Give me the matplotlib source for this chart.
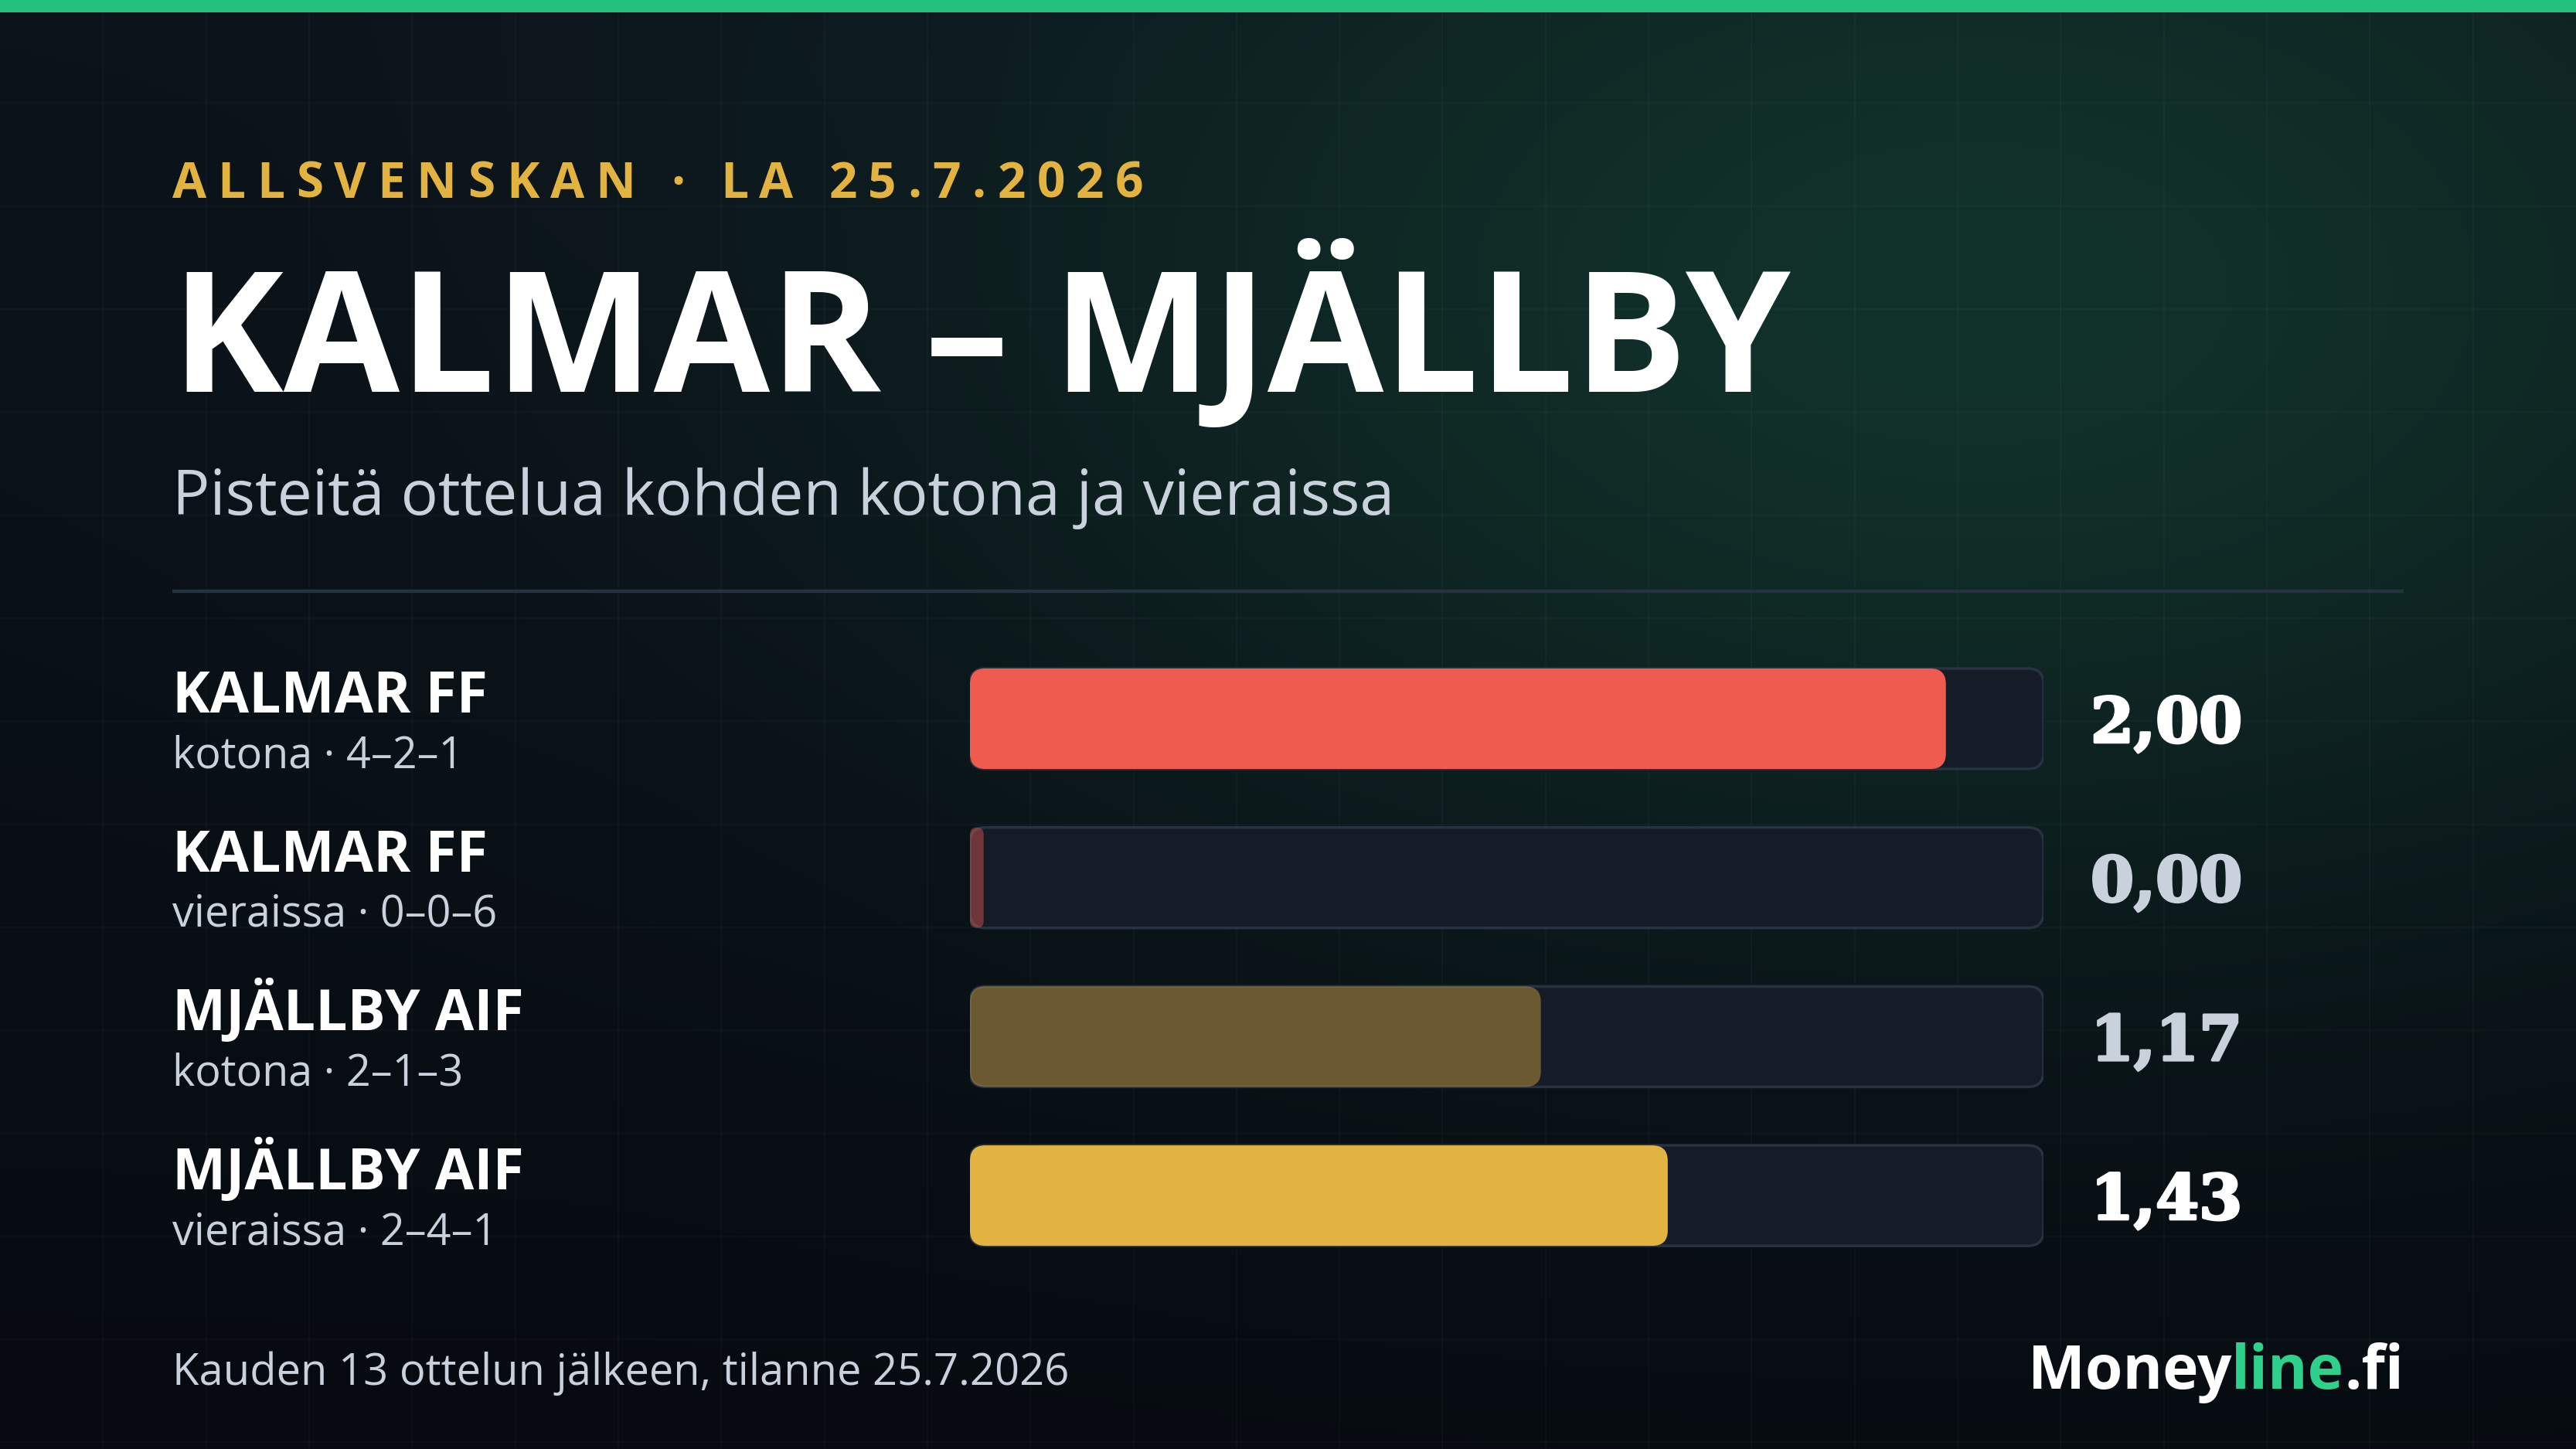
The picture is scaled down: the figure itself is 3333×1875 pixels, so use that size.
import numpy as np
import matplotlib
matplotlib.use("Agg")
import matplotlib.pyplot as plt
import matplotlib.patheffects as pe
from matplotlib import font_manager
from matplotlib.patches import FancyBboxPatch, Rectangle

# data
teams = ["KALMAR FF", "KALMAR FF", "MJÄLLBY AIF", "MJÄLLBY AIF"]
venues = ["kotona", "vieraissa", "kotona", "vieraissa"]
records = ["4–2–1", "0–0–6", "2–1–3", "2–4–1"]
ppg = [2.00, 0.00, 1.17, 1.43]
highlight = [True, False, False, True]
x_max = 2.2

header = "ALLSVENSKAN · LA 25.7.2026"
title = "KALMAR – MJÄLLBY"
subtitle = "Pisteitä ottelua kohden kotona ja vieraissa"
footer = "Kauden 13 ottelun jälkeen, tilanne 25.7.2026"

W, H = 3333, 1875
RED = "#f05b50"
GOLD = "#e3b341"
TRACK = "#151b27"
EDGE = "#283242"
LIGHT = "#c8d1dc"
GREEN = "#22c07a"
team_colors = {"KALMAR FF": RED, "MJÄLLBY AIF": GOLD}

# pick a sans family that actually has a bold face installed
bold_fams = {f.name for f in font_manager.fontManager.ttflist
             if (f.weight if isinstance(f.weight, int) else 400) >= 600 or f.weight == "bold"}
fam = "DejaVu Sans"
for cand in ["Open Sans", "Noto Sans", "Lato", "Roboto", "Inter", "Liberation Sans"]:
    if cand in bold_fams:
        fam = cand
        break
plt.rcParams["font.family"] = [fam, "DejaVu Sans"]

fig = plt.figure(figsize=(W / 100, H / 100), dpi=100)
bg = fig.add_axes([0, 0, 1, 1])
bg.set_xlim(0, W)
bg.set_ylim(H, 0)
bg.axis("off")

# background gradient with green glow top right
ny, nx = H // 5, W // 5
yy, xx = np.mgrid[0:ny, 0:nx]
yy = yy * 5.0
xx = xx * 5.0
t = yy / H
top = np.array([12, 19, 27]) / 255
bot = np.array([7, 11, 17]) / 255
img = top[None, None, :] * (1 - t[..., None]) + bot[None, None, :] * t[..., None]
d = np.sqrt(((xx - 2550) / 1500) ** 2 + ((yy - 380) / 900) ** 2)
glow = np.exp(-d ** 2 * 1.3)
gcol = np.array([17, 50, 42]) / 255
img = img * (1 - glow[..., None]) + gcol[None, None, :] * glow[..., None]
bg.imshow(img, extent=[0, W, H, 0], aspect="auto", zorder=0, interpolation="bilinear")

# faint grid
step = W / 25
for gx in np.arange(step, W, step):
    bg.axvline(gx, color="white", alpha=0.025, lw=1.5, zorder=1)
for gy in np.arange(step, H, step):
    bg.axhline(gy, color="white", alpha=0.025, lw=1.5, zorder=1)

# top accent bar
bg.add_patch(Rectangle((0, 0), W, 16, color=GREEN, zorder=2, lw=0))

renderer = fig.canvas.get_renderer()


def text_width(s, **kw):
    tt = bg.text(0, 0, s, **kw)
    bb = tt.get_window_extent(renderer)
    tt.remove()
    return bb.width


def fit_size(s, target, size, **kw):
    return size * target / text_width(s, fontsize=size, **kw)


# letter-spaced header
hkw = dict(fontsize=46, fontweight="bold", color=GOLD)
spacing = 14.5
x = 223
for i, ch in enumerate(header):
    bg.text(x, 256, ch, va="baseline", ha="left", zorder=3, **hkw)
    x += text_width(header[:i + 1] + "|", **hkw) - text_width(header[:i] + "|", **hkw) + spacing

tsize = fit_size(title, 2095, 160, fontweight="bold")
bg.text(222, 507, title, fontsize=tsize, fontweight="bold", color="white",
        va="baseline", ha="left", zorder=3)
ssize = fit_size(subtitle, 1582, 53)
bg.text(223, 666, subtitle, fontsize=ssize, color=LIGHT, va="baseline", ha="left", zorder=3)
bg.plot([223, 3110], [765, 765], color="#273241", lw=3.2, zorder=3, solid_capstyle="butt")

# row labels
row_y = 930
row_step = 205.7
nsize = fit_size("KALMAR FF", 408, 50, fontweight="bold")
rsize = fit_size("kotona · 4–2–1", 376, 39)
for i in range(len(teams)):
    cy = row_y + i * row_step
    bg.text(223, cy - 8, teams[i], fontsize=nsize, fontweight="bold", color="white",
            va="baseline", ha="left", zorder=3)
    bg.text(223, cy + 63, f"{venues[i]} · {records[i]}", fontsize=rsize, color=LIGHT,
            va="baseline", ha="left", zorder=3)

# bar axes
left_px, right_px = 1255, 2644
top_px = row_y - row_step / 2
bot_px = row_y + 3.5 * row_step
ax = fig.add_axes([left_px / W, 1 - bot_px / H, (right_px - left_px) / W, (bot_px - top_px) / H])
ax.set_xlim(0, x_max)
ax.set_ylim(3.5, -0.5)
ax.axis("off")
ax.patch.set_alpha(0)

px_x = (right_px - left_px) / x_max
px_y = row_step
asp = px_x / px_y
r = 20 / px_x
bh = 130 / px_y
for i, v in enumerate(ppg):
    track = FancyBboxPatch((0, i - bh / 2), x_max, bh,
                           boxstyle=f"round,pad=0,rounding_size={r}", mutation_aspect=asp,
                           fc=TRACK, ec=EDGE, lw=2.5, zorder=2)
    ax.add_patch(track)
    w = max(v, 0.028)
    fill = FancyBboxPatch((0, i - bh / 2), w, bh,
                          boxstyle=f"round,pad=0,rounding_size={min(r, w / 2)}", mutation_aspect=asp,
                          fc=team_colors[teams[i]], alpha=1.0 if highlight[i] else 0.42,
                          ec="none", zorder=3)
    ax.add_patch(fill)
    vc = "white" if highlight[i] else LIGHT
    bg.text(2705, row_y + i * row_step, f"{v:.2f}".replace(".", ","),
            fontsize=58, fontweight="bold", family="DejaVu Serif", color=vc,
            va="center_baseline", ha="left", zorder=3,
            path_effects=[pe.withStroke(linewidth=2.5, foreground=vc)])

# footer
fsize = fit_size(footer, 1160, 41)
bg.text(223, 1792, footer, fontsize=fsize, color=LIGHT, va="baseline", ha="left", zorder=3)
msize = fit_size("Moneyline.fi", 486, 58, fontweight="bold")
fkw = dict(fontsize=msize, fontweight="bold")
parts = [("Money", "white"), ("line", "#2fd08b"), (".fi", "white")]
total = text_width("Moneyline.fi", **fkw)
x = 3110 - total
for s, c in parts:
    bg.text(x, 1797, s, color=c, va="baseline", ha="left", zorder=3, **fkw)
    x += text_width(s + "|", **fkw) - text_width("|", **fkw)

fig.savefig("out.png", dpi=100)
